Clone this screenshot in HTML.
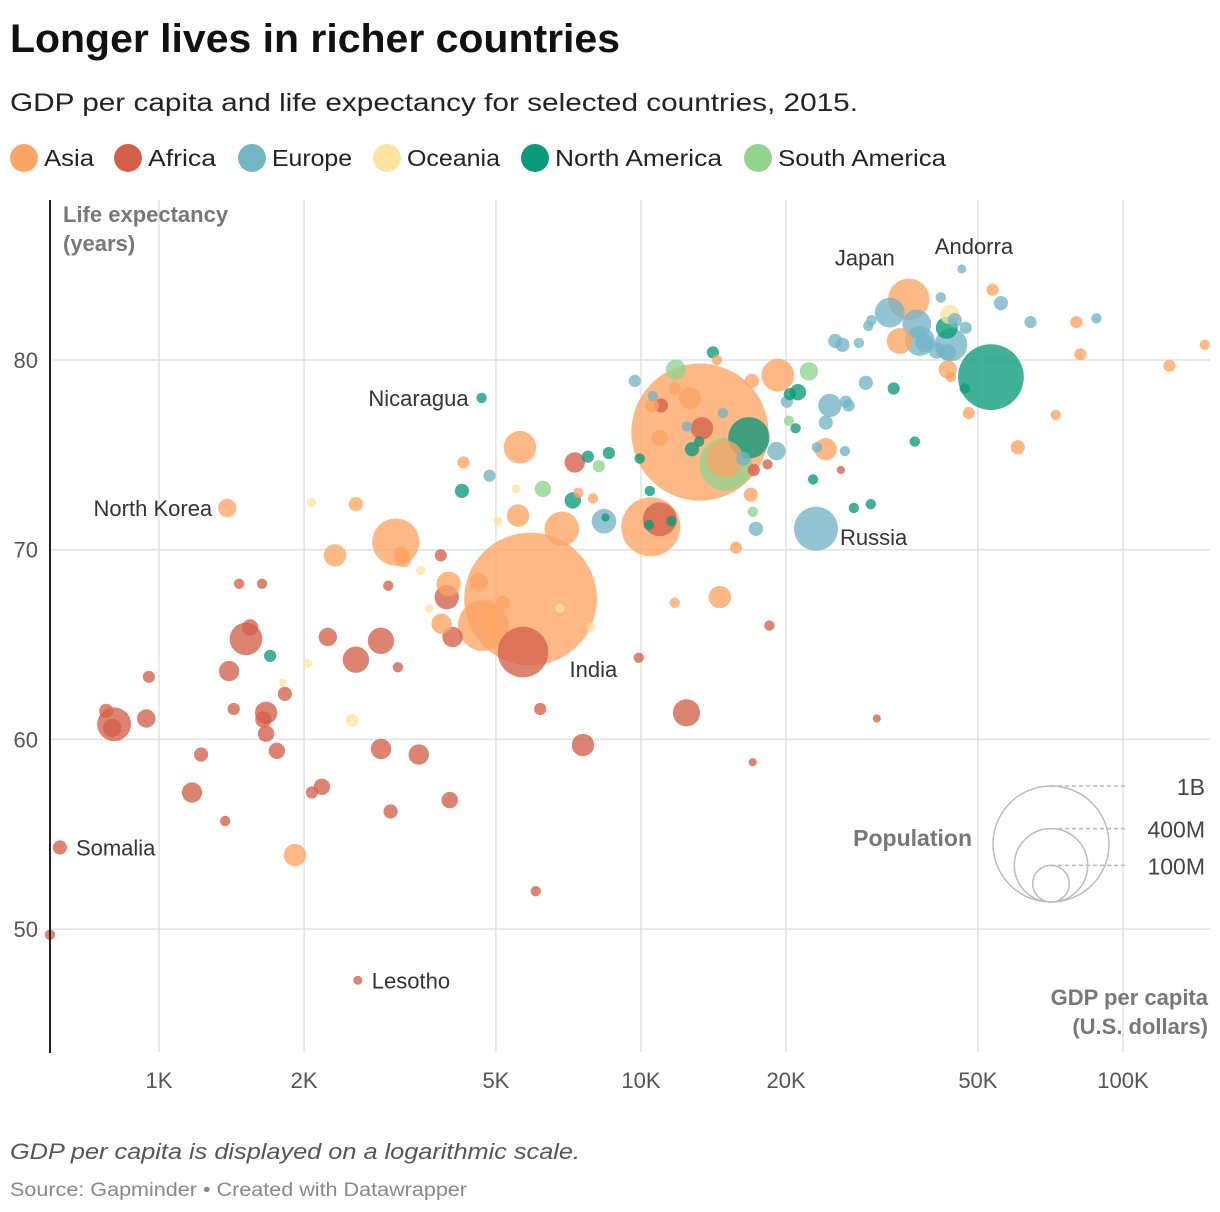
<!DOCTYPE html>
<html><head><meta charset="utf-8">
<style>
body{margin:0;background:#fff;font-family:"Liberation Sans",sans-serif;}
#wrap{position:relative;width:1220px;height:1212px;overflow:hidden;}
</style></head>
<body>
<div id="wrap">
<svg id="chart" width="1220" height="1212" xmlns="http://www.w3.org/2000/svg">
<text x="10" y="52" font-size="40" font-weight="bold" fill="#111" textLength="610" lengthAdjust="spacingAndGlyphs">Longer lives in richer countries</text>
<text x="10" y="111" font-size="25" fill="#222" textLength="848" lengthAdjust="spacingAndGlyphs">GDP per capita and life expectancy for selected countries, 2015.</text>
<g id="legend"></g>
<g id="grid"></g>
<g id="bubbles"></g>
<g id="labels"></g>
<line x1="50" y1="200" x2="50" y2="1053" stroke="#222" stroke-width="2"/>
<text x="63" y="222" font-size="22" font-weight="bold" fill="#777"><tspan x="63">Life expectancy</tspan><tspan x="63" dy="29">(years)</tspan></text>
<text x="1208" y="1005" font-size="22" font-weight="bold" fill="#777" text-anchor="end"><tspan x="1208">GDP per capita</tspan><tspan x="1208" dy="29">(U.S. dollars)</tspan></text>
<g id="sizelegend"></g>
<text x="10" y="1159" font-size="22" font-style="italic" fill="#555" textLength="570" lengthAdjust="spacingAndGlyphs">GDP per capita is displayed on a logarithmic scale.</text>
<text x="10" y="1196" font-size="19" fill="#888" textLength="457" lengthAdjust="spacingAndGlyphs">Source: Gapminder • Created with Datawrapper</text>
</svg>
</div>
<script>
const regionNames = ["Asia","Africa","Europe","Oceania","North America","South America"];
const regionColors = ["#fca464","#d4604a","#73b4c5","#fde39c","#0a9a7b","#91d38f"];
const xTicks = [1000,2000,5000,10000,20000,50000,100000];
const xTickLabels = ["1K","2K","5K","10K","20K","50K","100K"];
const yTicks = [50,60,70,80];
const sizeTicks = [1e9,4e8,1e8];
const sizeTickLabels = ["1B","400M","100M"];
// region index per country: 0 Asia,1 Africa,2 Europe,3 Oceania,4 N.America,5 S.America
const countries = ["Somalia","Ethiopia","af3","af4","af5","af6","DR Congo","af8","af9","af10","af11","af12","af13","af14","af15","af16","af17","af18","af19","af20","af21","af22","af23","af24","af25","af26","af27","af28","af29","af30","af31","af32","af33","af34","Nigeria","af36","af37","af38","af39","af40","Lesotho","af42","South Africa","Egypt","af45","Algeria","af47","af48","af49","af50","af51","af52",
"India","China","North Korea","Afghanistan","Pakistan","as6","as7","as8","as9","as10","as11","as12","as13","Bangladesh","Vietnam","as16","as17","Philippines","as19","as20","Indonesia","as22","Japan","South Korea","as25","as26","as27","as28","as29","Qatar","as31","as32","as33","as34","as35","as36","as37","as38","as39","as40","as41","as42","as43","as44","Thailand","as46",
"Russia","Ukraine","eu3","eu4","eu5","eu6","eu7","eu8","Poland","eu10","eu11","eu12","eu13","eu14","eu15","eu16","eu17","eu18","eu19","eu20","eu21","eu22","eu23","United Kingdom","France","Italy","eu27","eu28","Germany","eu30","eu31","eu32","Andorra","eu34","eu35","eu36","eu37",
"Australia","oc2","Papua New Guinea","oc4","oc5","oc6","oc7","oc8","oc9","oc10","oc11",
"United States","Mexico","Canada","Nicaragua","na5","na6","na7","na8","na9","Haiti","na11","na12","na13","na14","na15","na16","na17","na18","na19","na20","na21","na22","na23","na24","na25","na26",
"Brazil","sa2","sa3","sa4","sa5","sa6","sa7"];
const region = [1,1,1,1,1,1,1,1,1,1,1,1,1,1,1,1,1,1,1,1,1,1,1,1,1,1,1,1,1,1,1,1,1,1,1,1,1,1,1,1,1,1,1,1,1,1,1,1,1,1,1,1,
0,0,0,0,0,0,0,0,0,0,0,0,0,0,0,0,0,0,0,0,0,0,0,0,0,0,0,0,0,0,0,0,0,0,0,0,0,0,0,0,0,0,0,0,0,0,
2,2,2,2,2,2,2,2,2,2,2,2,2,2,2,2,2,2,2,2,2,2,2,2,2,2,2,2,2,2,2,2,2,2,2,2,2,
3,3,3,3,3,3,3,3,3,3,3,
4,4,4,4,4,4,4,4,4,4,4,4,4,4,4,4,4,4,4,4,4,4,4,4,4,4,
5,5,5,5,5,5,5];
const gdp = [623,807,777,800,941,953,1515,1545,1466,1636,1398,1429,1668,1647,1668,1825,1756,1223,1171,1372,2240,2562,2888,3130,2990,2888,3460,2178,2076,3024,4010,3842,3954,4066,5692,6179,7580,6050,7290,9890,2585,594,12430,10940,11000,13380,17140,18300,25980,30850,18470,17060,
5900,13250,1385,1915,3100,3175,3205,2318,2562,3990,3858,4608,5172,4708,5610,4283,5560,6852,7950,7420,10480,19230,35950,34430,43300,43940,53630,80060,81600,124900,147800,47870,72540,60510,24180,16900,15740,14580,11750,14380,11750,10530,12630,10940,14930,16990,
23070,8380,4850,9710,10580,14790,12450,20080,24650,26600,26960,24180,29270,19100,26490,23170,17310,16300,25290,26180,28320,29620,30060,32820,37320,37900,38700,41090,43940,43300,47170,41870,46300,55800,64280,88050,44770,
43720,2070,2515,1805,2035,3490,3636,5050,5510,7880,6790,
53190,16740,43100,4670,4250,7220,7760,8580,8440,1700,14100,20360,21160,12760,13200,9940,10430,33440,46950,36980,22750,27640,29970,20930,10380,11570,
15000,11810,22300,20270,17060,6260,8180];
const life = [54.3,60.8,61.5,60.6,61.1,63.3,65.3,65.9,68.2,68.2,63.6,61.6,61.4,61.05,60.3,62.4,59.4,59.2,57.2,55.7,65.4,64.2,65.2,63.8,68.1,59.5,59.2,57.5,57.2,56.2,56.8,69.7,67.5,65.4,64.6,61.6,59.7,52.0,74.6,64.3,47.3,49.7,61.4,71.6,77.6,76.4,74.2,74.5,74.2,61.1,66.0,58.8,
67.4,76.2,72.2,53.9,70.4,69.8,69.5,69.7,72.4,68.2,66.1,68.3,67.2,66.0,75.4,74.6,71.8,71.1,72.7,73.0,71.2,79.2,83.2,81.0,79.5,79.1,83.7,82.0,80.3,79.7,80.8,77.2,77.1,75.4,75.3,72.9,70.1,67.5,67.2,80.0,78.5,77.6,78.0,75.9,74.8,78.9,
71.1,71.5,73.9,78.9,78.1,77.2,76.5,77.8,77.6,77.8,77.6,76.7,78.8,75.2,75.2,75.4,71.1,74.8,81.0,80.8,80.9,81.8,82.1,82.5,81.9,81.0,80.9,80.5,80.8,80.4,81.7,83.3,84.8,83.0,82.0,82.2,82.1,
82.4,72.5,61.0,63.0,64.0,68.9,66.9,71.5,73.2,65.9,66.9,
79.1,75.9,81.7,78.0,73.1,72.6,74.9,75.1,71.7,64.4,80.4,78.2,78.3,75.3,75.7,74.8,73.1,78.5,78.5,75.7,73.7,72.2,72.4,76.4,71.3,71.5,
74.5,79.5,79.4,76.8,72.0,73.2,74.4];
const popM = [15,85,15,25,25,11,79,20,8,8,31,11,37,20,20,15,20,15,31,8,25,52,52,8,8,31,31,20,11,15,20,11,44,31,190,11,37,8,31,8,6,8,55,85,15,37,11,8,5,5,8,5,
1311,1397,25,37,165,15,20,37,15,44,31,25,15,192,79,11,37,89,8,8,258,80,127,50,25,8,11,11,11,11,8,11,8,15,37,15,11,37,8,8,11,15,37,20,100,15,
144,45,11,11,8,8,8,11,40,11,11,15,15,25,8,8,15,15,15,15,8,8,8,66,62,66,25,20,81,20,11,8,6,15,11,8,15,
28,6,12,4,6,6,6,6,6,6,6,
322,127,36,8,15,20,11,11,5,11,11,11,20,15,8,8,8,11,8,8,8,8,8,8,8,8,
205,30,25,8,8,20,11];

const NS = "http://www.w3.org/2000/svg";
function xScale(v){ return 159 + 482*Math.log10(v/1000); }
function yScale(v){ return 360 + (80 - v)*18.97; }
function rScale(p){ return 58*Math.sqrt(p/1e9); }
function mk(tag, attrs, parent){ const e=document.createElementNS(NS,tag); for(const k in attrs) e.setAttribute(k,attrs[k]); parent.appendChild(e); return e; }

// legend
const lg = document.getElementById('legend');
const legX = [24,128,252,387,535,758];
const legW = [50,68,80,93,167,168];
regionNames.forEach((n,i)=>{
  const g = mk('g',{},lg);
  
  
  mk('circle',{cx:legX[i],cy:158,r:14,fill:regionColors[i]},g);
  const t = mk('text',{x:legX[i]+20,y:166,'font-size':23,fill:'#222',textLength:legW[i],lengthAdjust:'spacingAndGlyphs'},g);
  t.textContent = n;
});

// grid & ticks
const grid = document.getElementById('grid');
xTicks.forEach((v,i)=>{
  const x = xScale(v);
  const l = mk('line',{x1:x,y1:200,x2:x,y2:1052,stroke:'#e2e2e2','stroke-width':1.5},grid);
  
  
  const t = mk('text',{x:x,y:1088,'font-size':22,fill:'#555','text-anchor':'middle'},grid);
  
  
  t.textContent = xTickLabels[i];
});
yTicks.forEach(v=>{
  const y = yScale(v);
  const l = mk('line',{x1:50,y1:y,x2:1210,y2:y,stroke:'#e2e2e2','stroke-width':1.5},grid);
  
  
  const t = mk('text',{x:38,y:y+8,'font-size':22,fill:'#555','text-anchor':'end'},grid);
  
  
  t.textContent = v;
});

// bubbles, largest first
const order = gdp.map((_,i)=>i).sort((a,b)=>popM[b]-popM[a]);
const bg = document.getElementById('bubbles');
order.forEach(i=>{
  const c = mk('circle',{cx:xScale(gdp[i]).toFixed(1),cy:yScale(life[i]).toFixed(1),r:rScale(popM[i]*1e6).toFixed(1),fill:regionColors[region[i]],'fill-opacity':0.78},bg);
  
  
});

// labels
const labelDefs = [["Japan",-74,-34,"start"],["Andorra",-27,-15,"start"],["Nicaragua",-13,8,"end"],["North Korea",-15,8,"end"],["Russia",24,16,"start"],["India",39,78,"start"],["Somalia",16,8,"start"],["Lesotho",14,8,"start"]];
const lab = document.getElementById('labels');
labelDefs.forEach(d=>{
  const i = countries.indexOf(d[0]);
  const t = mk('text',{x:xScale(gdp[i])+d[1],y:yScale(life[i])+d[2],'font-size':22,fill:'#333','text-anchor':d[3]},lab);
  
  
  t.textContent = d[0];
});

// size legend
const sl = document.getElementById('sizelegend');
const baseY = 902, cx = 1051;
const pt = mk('text',{x:972,y:846,'font-size':23,'font-weight':'bold',fill:'#777','text-anchor':'end'},sl);


pt.textContent = 'Population';
sizeTicks.forEach((p,i)=>{
  const r = rScale(p);
  const c = mk('circle',{cx:cx,cy:baseY-r,r:r,fill:'none',stroke:'#bbb','stroke-width':1.5},sl);
  
  
  mk('line',{x1:cx,y1:baseY-2*r,x2:1127,y2:baseY-2*r,stroke:'#bbb','stroke-width':1.5,'stroke-dasharray':'4 3'},sl);
  const t = mk('text',{x:1205,y:baseY-2*r+9,'font-size':23,fill:'#444','text-anchor':'end'},sl);
  
  
  t.textContent = sizeTickLabels[i];
});
</script>
</body></html>
